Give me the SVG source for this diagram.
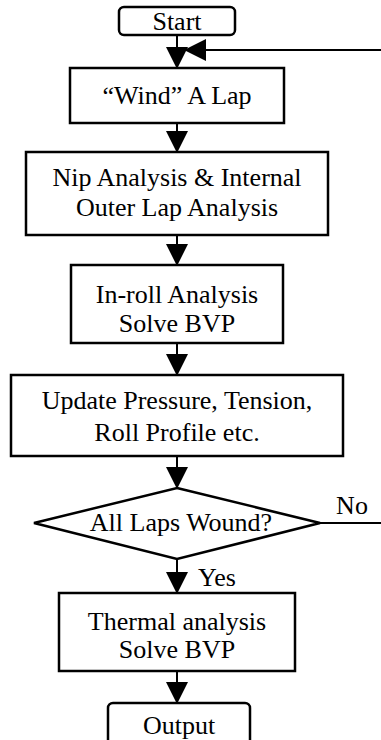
<svg xmlns="http://www.w3.org/2000/svg" width="381" height="740" viewBox="0 0 381 740">
  <style>
    .box { fill: #fff; stroke: #000; stroke-width: 2.5; }
    .line { fill: none; stroke: #000; stroke-width: 2; }
    .lbl { font-family: "Liberation Serif", "DejaVu Serif", serif; font-size: 26px; fill: #000; text-anchor: middle; }
  </style>
  <defs>
    <marker id="arrow" markerUnits="userSpaceOnUse" markerWidth="22" markerHeight="22" viewBox="0 0 22 22" refX="21" refY="11" orient="auto">
      <path d="M0,0 L22,11 L0,22 Z" fill="#000"/>
    </marker>
  </defs>

  <rect width="381" height="740" fill="#fff"/>

  <!-- connectors -->
  <g id="connectors">
    <line class="line" x1="177" y1="35" x2="177" y2="68" marker-end="url(#arrow)"/>
    <line class="line" x1="381" y1="50" x2="185" y2="50" marker-end="url(#arrow)"/>
    <line class="line" x1="177" y1="123" x2="177" y2="152" marker-end="url(#arrow)"/>
    <line class="line" x1="177" y1="235" x2="177" y2="265" marker-end="url(#arrow)"/>
    <line class="line" x1="177" y1="343" x2="177" y2="375" marker-end="url(#arrow)"/>
    <line class="line" x1="177" y1="456" x2="177" y2="488" marker-end="url(#arrow)"/>
    <line class="line" x1="320" y1="523" x2="381" y2="523"/>
    <line class="line" x1="177" y1="559" x2="177" y2="593" marker-end="url(#arrow)"/>
    <line class="line" x1="177" y1="671" x2="177" y2="703" marker-end="url(#arrow)"/>
    <text class="lbl" x="352" y="514">No</text>
    <text class="lbl" x="217" y="586">Yes</text>
  </g>

  <g id="start">
    <rect class="box" x="119" y="7" width="116" height="28" rx="5"/>
    <text class="lbl" x="177" y="30">Start</text>
  </g>

  <g id="wind">
    <rect class="box" x="70" y="68" width="214" height="55"/>
    <text class="lbl" x="177" y="104">“Wind” A Lap</text>
  </g>

  <g id="nip">
    <rect class="box" x="26" y="152" width="302" height="83"/>
    <text class="lbl" x="177" y="186">Nip Analysis &amp; Internal</text>
    <text class="lbl" x="177" y="216">Outer Lap Analysis</text>
  </g>

  <g id="inroll">
    <rect class="box" x="71" y="265" width="212" height="78"/>
    <text class="lbl" x="177" y="303">In-roll Analysis</text>
    <text class="lbl" x="177" y="332">Solve BVP</text>
  </g>

  <g id="update">
    <rect class="box" x="11" y="375" width="332" height="81"/>
    <text class="lbl" x="177" y="409">Update Pressure, Tension,</text>
    <text class="lbl" x="177" y="441">Roll Profile etc.</text>
  </g>

  <g id="decision">
    <polygon class="box" points="177,488 320,523 177,559 34,523"/>
    <text class="lbl" x="181" y="531">All Laps Wound?</text>
  </g>

  <g id="thermal">
    <rect class="box" x="59" y="593" width="236" height="78"/>
    <text class="lbl" x="177" y="630">Thermal analysis</text>
    <text class="lbl" x="177" y="658">Solve BVP</text>
  </g>

  <g id="output">
    <rect class="box" x="108" y="703" width="142" height="45" rx="5"/>
    <text class="lbl" x="179" y="734">Output</text>
  </g>
</svg>
